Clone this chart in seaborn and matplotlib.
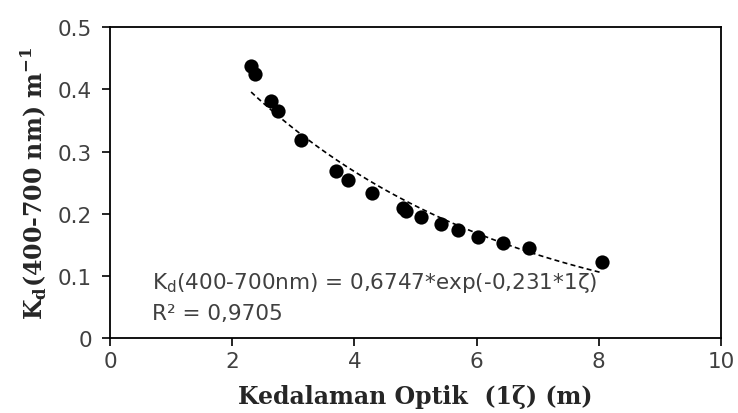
import numpy as np
import pandas as pd
from matplotlib import pyplot as plt
import seaborn as sns

# data
optical_depth = [2.31, 2.37, 2.64, 2.75, 3.13, 3.70, 3.89, 4.29, 4.80, 4.85,
                 5.09, 5.42, 5.69, 6.02, 6.43, 6.86, 8.06]
kd_values = [0.438, 0.424, 0.381, 0.365, 0.319, 0.269, 0.254, 0.233, 0.209, 0.205,
             0.195, 0.184, 0.174, 0.163, 0.153, 0.145, 0.122]

# fitted model shown on the chart
fit_a = 0.6747
fit_b = -0.231
fit_r2 = 0.9705

df = pd.DataFrame({"z": optical_depth, "kd": kd_values})
z_fit = np.linspace(min(optical_depth), max(optical_depth), 100)
fit_df = pd.DataFrame({"z": z_fit, "kd": fit_a * np.exp(fit_b * z_fit)})

sns.set_style("ticks")
plt.rcParams["font.family"] = ["DejaVu Sans"]

fig = plt.figure(figsize=(7.38, 4.14), dpi=100)
ax = fig.add_axes([0.149, 0.181, 0.828, 0.751])

sns.lineplot(data=fit_df, x="z", y="kd", ax=ax, color="black", linewidth=1.2,
             linestyle=(0, (3, 2)))
sns.scatterplot(data=df, x="z", y="kd", ax=ax, color="black", s=105,
                edgecolor="black", linewidth=0)

ax.set_xlim(0, 10)
ax.set_ylim(0, 0.5)
ax.set_xticks([0, 2, 4, 6, 8, 10])
ax.set_yticks([0, 0.1, 0.2, 0.3, 0.4, 0.5])
ax.set_yticklabels(["0", "0.1", "0.2", "0.3", "0.4", "0.5"])
ax.tick_params(direction="out", length=6, width=1.2, labelsize=15.5, colors="black",
               labelcolor="#404040")
ax.tick_params(axis="y", pad=7)
for sp in ax.spines.values():
    sp.set_visible(True)
    sp.set_color("black")
    sp.set_linewidth(1.3)

label_font = {"family": ["DejaVu Serif"], "weight": "bold", "size": 17}
ax.set_xlabel(r"Kedalaman Optik  (1ζ) (m)", fontdict=label_font, labelpad=9)
ax.set_ylabel(r"K$_{\mathregular{d}}$(400-700 nm) m$^{\mathregular{-1}}$",
              fontdict=label_font, labelpad=6)

ax.text(0.69, 0.090,
        "K$_{\\mathregular{d}}$(400-700nm) = %s*exp(%s*1ζ)"
        % (str(fit_a).replace(".", ","), str(fit_b).replace(".", ",")),
        fontsize=15.5, color="#404040", va="center", ha="left")
ax.text(0.69, 0.041, "R² = %s" % str(fit_r2).replace(".", ","),
        fontsize=15.5, color="#404040", va="center", ha="left")

fig.savefig("out.png", dpi=100)
